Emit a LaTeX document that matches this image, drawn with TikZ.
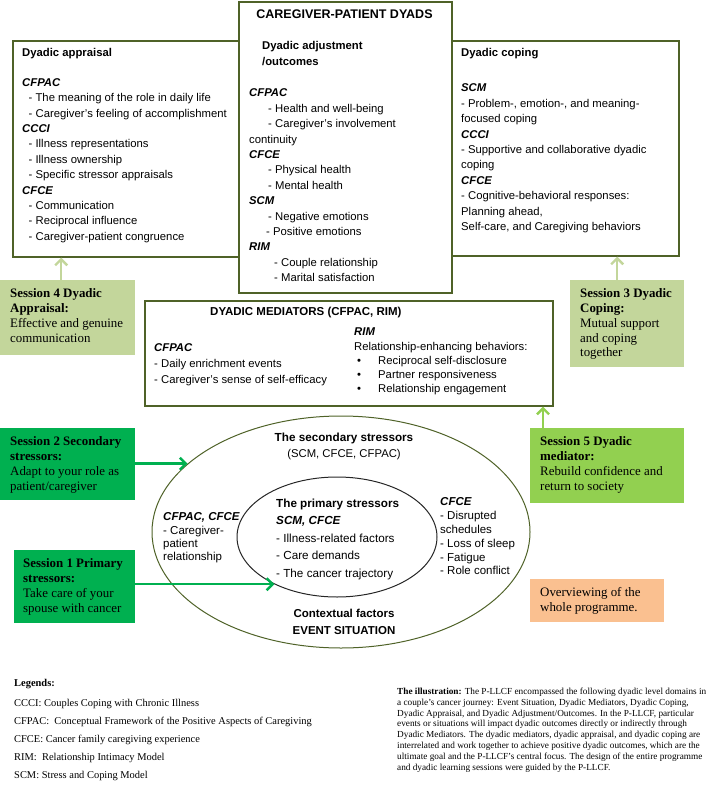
\documentclass[tikz,border=0pt]{standalone}
\usepackage{fontspec}
\setmainfont{Liberation Serif}
\setsansfont{Liberation Sans}
\usetikzlibrary{arrows.meta}
\usetikzlibrary{shapes.geometric}

\definecolor{framegreen}{HTML}{4F6228}
\definecolor{sessolive}{HTML}{C3D69B}
\definecolor{sessgreen}{HTML}{00B050}
\definecolor{sesslime}{HTML}{92D050}
\definecolor{overpeach}{HTML}{FAC090}

\newcommand{\boxfont}{\sffamily\fontsize{11.3}{15.4}\selectfont}
\newcommand{\sessfont}{\rmfamily\fontsize{12.9}{14.8}\selectfont}
\newcommand{\head}[1]{\textbf{\textit{#1}}}
\newcommand{\itm}{\hspace*{6.5pt}}

\begin{document}
\begin{tikzpicture}[x=1pt,y=-1pt,
    frame/.style={draw=framegreen, line width=1.6pt, inner sep=0pt, anchor=north west},
    boxtext/.style={font=\boxfont, align=left, inner sep=0pt, anchor=north west},
    session/.style={inner sep=0pt, anchor=north west},
    sesstext/.style={font=\sessfont, align=left, inner sep=0pt, anchor=north west},
    sessarrow/.style={line width=2.4pt, -{Straight Barb[length=6pt,width=12pt]}}]
    \useasboundingbox (0,0) rectangle (709,792);

    % upper frames
    \node [frame, minimum width=226pt, minimum height=216pt] (appraisal) at (12,40) {};
    \node [frame, minimum width=227pt, minimum height=215pt] (coping) at (451,40) {};
    \node [frame, minimum width=213pt, minimum height=291pt] (dyads) at (238,1) {};
    \node [frame, minimum width=408pt, minimum height=105pt] (mediators) at (144,300) {};

    \node [boxtext] (appraisaltxt) at (22,48.5) {\textbf{Dyadic appraisal}\\[14pt]\head{CFPAC}\\\itm- The meaning of the role in daily life\\\itm- Caregiver's feeling of accomplishment\\\head{CCCI}\\\itm- Illness representations\\\itm- Illness ownership\\\itm- Specific stressor appraisals\\\head{CFCE}\\\itm- Communication\\\itm- Reciprocal influence\\\itm- Caregiver-patient congruence};

    \node [font=\sffamily\bfseries\fontsize{12.5}{15}\selectfont, inner sep=0pt] (dyadstitle) at (344.5,14) {CAREGIVER-PATIENT DYADS};
    \node [boxtext, font=\sffamily\bfseries\fontsize{11.3}{16}\selectfont] (adjusttitle) at (262,40.8) {Dyadic adjustment\\/outcomes};
    \node [boxtext] (adjusttxt) at (249,88.8) {\head{CFPAC}\\\hspace*{19pt}- Health and well-being\\\hspace*{19pt}- Caregiver's involvement\\continuity\\\head{CFCE}\\\hspace*{19pt}- Physical health\\\hspace*{19pt}- Mental health\\\head{SCM}\\\hspace*{19pt}- Negative emotions\\\hspace*{17pt}- Positive emotions\\\head{RIM}\\\hspace*{25pt}- Couple relationship\\\hspace*{25pt}- Marital satisfaction};

    \node [boxtext] (copingtxt) at (461,48.1) {\textbf{Dyadic coping}\\[20pt]\head{SCM}\\- Problem-, emotion-, and meaning-\\focused coping\\\head{CCCI}\\- Supportive and collaborative dyadic\\coping\\\head{CFCE}\\- Cognitive-behavioral responses:\\Planning ahead,\\Self-care, and Caregiving behaviors};

    \node [font=\sffamily\bfseries\fontsize{11.5}{15}\selectfont, inner sep=0pt, anchor=west] (medtitle) at (210,313) {DYADIC MEDIATORS (CFPAC, RIM)};
    \node [boxtext, font=\sffamily\fontsize{11.3}{16}\selectfont] (medcfpac) at (154,343.8) {\head{CFPAC}\\- Daily enrichment events\\- Caregiver's sense of self-efficacy};
    \node [boxtext, font=\sffamily\fontsize{11.3}{14.3}\selectfont] (medrim) at (354,327.8) {\head{RIM}\\Relationship-enhancing behaviors:\\\makebox[24pt][l]{\hspace*{3pt}\textbullet}Reciprocal self-disclosure\\\makebox[24pt][l]{\hspace*{3pt}\textbullet}Partner responsiveness\\\makebox[24pt][l]{\hspace*{3pt}\textbullet}Relationship engagement};

    % stressors
    \node [ellipse, draw=framegreen, line width=1pt, minimum width=378pt, minimum height=232pt, inner sep=0pt] (outer) at (341,532) {};
    \node [ellipse, draw=black!85, line width=1pt, minimum width=200pt, minimum height=120pt, inner sep=0pt] (inner) at (337,537) {};

    \node [font=\sffamily\bfseries\fontsize{11.7}{17}\selectfont, inner sep=0pt] (secondary) at (344,438) {The secondary stressors};
    \node [font=\sffamily\fontsize{11.3}{14}\selectfont, inner sep=0pt] (secondarysrc) at (344,455) {(SCM, CFCE, CFPAC)};
    \node [boxtext, font=\sffamily\fontsize{11.5}{13.3}\selectfont] (relationtxt) at (163,512.7) {\head{CFPAC, CFCE}\\- Caregiver-\\patient\\relationship};
    \node [boxtext, font=\sffamily\fontsize{11.7}{17.5}\selectfont] (primarytxt) at (276,498.7) {\textbf{The primary stressors}\\\head{SCM, CFCE}\\- Illness-related factors\\- Care demands\\- The cancer trajectory};
    \node [boxtext, font=\sffamily\fontsize{11.5}{13.8}\selectfont] (cfcetxt) at (440,497.7) {\head{CFCE}\\- Disrupted\\schedules\\- Loss of sleep\\- Fatigue\\- Role conflict};
    \node [font=\sffamily\bfseries\fontsize{11.5}{17}\selectfont, align=center, inner sep=0pt] (context) at (344,621.5) {Contextual factors\\EVENT SITUATION};

    % sessions
    \node [session, fill=sessolive, minimum width=135pt, minimum height=75pt] (s4) at (0,280) {};
    \node [sesstext] (s4txt) at (10,288.5) {\textbf{Session 4 Dyadic}\\\textbf{Appraisal:}\\Effective and genuine\\communication};
    \node [session, fill=sessolive, minimum width=114pt, minimum height=87pt] (s3) at (570,280) {};
    \node [sesstext] (s3txt) at (580,288.5) {\textbf{Session 3 Dyadic}\\\textbf{Coping:}\\Mutual support\\and coping\\together};
    \node [session, fill=sessgreen, minimum width=135pt, minimum height=72pt] (s2) at (0,428) {};
    \node [sesstext] (s2txt) at (10,436.5) {\textbf{Session 2 Secondary}\\\textbf{stressors:}\\Adapt to your role as\\patient/caregiver};
    \node [session, fill=sessgreen, minimum width=121pt, minimum height=73pt] (s1) at (14,550) {};
    \node [sesstext] (s1txt) at (23,558.5) {\textbf{Session 1 Primary}\\\textbf{stressors:}\\Take care of your\\spouse with cancer};
    \node [session, fill=sesslime, minimum width=154pt, minimum height=75pt] (s5) at (530,428) {};
    \node [sesstext] (s5txt) at (540,436.5) {\textbf{Session 5 Dyadic}\\\textbf{mediator:}\\Rebuild confidence and\\return to society};
    \node [session, fill=overpeach, minimum width=134pt, minimum height=43pt] (overview) at (530,579) {};
    \node [sesstext] (overviewtxt) at (540,587.5) {Overviewing of the\\whole programme.};

    \coordinate (s4top) at ([xshift=-6.5pt]s4.north);
    \coordinate (s3top) at ([xshift=-10pt]s3.north);
    \coordinate (s5top) at ([xshift=13pt]s5.north west);
    \draw [sessarrow, draw=sessolive] (s4top) -- (s4top |- appraisal.south);
    \draw [sessarrow, draw=sessolive] (s3top) -- (s3top |- coping.south);
    \draw [sessarrow, draw=sesslime] (s5top) -- (s5top |- mediators.south);
    \draw [sessarrow, draw=sessgreen] (s2.east |- outer.156.5) -- (outer.156.5);
    \draw [sessarrow, draw=sessgreen] (s1.east |- inner.217.2) -- (inner.217.2);

    % notes
    \node [font=\rmfamily\fontsize{10.45}{18}\selectfont, align=left, inner sep=0pt, anchor=north west] (legends) at (14,679.5) {\textbf{Legends:}\\[1.5pt]CCCI: Couples Coping with Chronic Illness\\CFPAC:\ \ Conceptual Framework of the Positive Aspects of Caregiving\\CFCE: Cancer family caregiving experience\\RIM:\ \ Relationship Intimacy Model\\SCM: Stress and Coping Model};
    \node [font=\rmfamily\fontsize{9.25}{10.9}\selectfont, align=left, inner sep=0pt, anchor=north west] (illustration) at (397,687.5) {\textbf{The illustration:} The P-LLCF encompassed the following dyadic level domains in\\a couple's cancer journey: Event Situation, Dyadic Mediators, Dyadic Coping,\\Dyadic Appraisal, and Dyadic Adjustment/Outcomes. In the P-LLCF, particular\\events or situations will impact dyadic outcomes directly or indirectly through\\Dyadic Mediators. The dyadic mediators, dyadic appraisal, and dyadic coping are\\interrelated and work together to achieve positive dyadic outcomes, which are the\\ultimate goal and the P-LLCF's central focus. The design of the entire programme\\and dyadic learning sessions were guided by the P-LLCF.};
\end{tikzpicture}
\end{document}
